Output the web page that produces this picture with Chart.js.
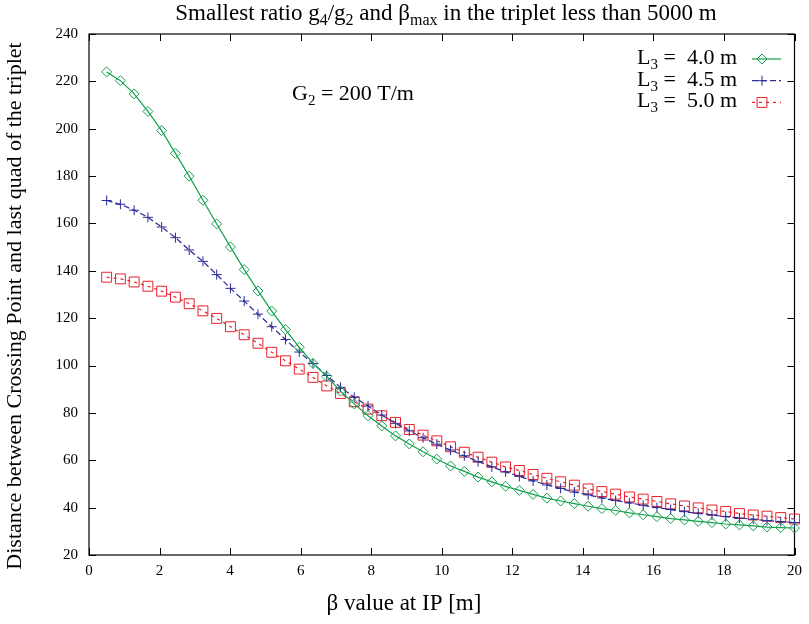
<!DOCTYPE html>
<html>
<head>
<meta charset="utf-8">
<title>Smallest ratio g4/g2 and beta max</title>
<script src="https://cdn.jsdelivr.net/npm/chart.js@4.4.1/dist/chart.umd.min.js"></script>
<style>
  html, body { margin: 0; padding: 0; background: #fff; }
  #wrap { width: 809px; height: 624px; }
</style>
</head>
<body>
<div id="wrap"><canvas id="chart" width="809" height="624"></canvas></div>
<script>
// beta value at IP [m]
var betaIP = [0.5, 0.89, 1.28, 1.67, 2.06, 2.45, 2.84, 3.23, 3.62, 4.01,
  4.4, 4.79, 5.18, 5.57, 5.96, 6.35, 6.74, 7.13, 7.52, 7.91,
  8.3, 8.69, 9.08, 9.47, 9.86, 10.25, 10.64, 11.03, 11.42, 11.81,
  12.2, 12.59, 12.98, 13.37, 13.76, 14.15, 14.54, 14.93, 15.32, 15.71,
  16.1, 16.49, 16.88, 17.27, 17.66, 18.05, 18.44, 18.83, 19.22, 19.61, 20.0];

// distance between crossing point and last quad [m]
var distL40 = [224.0, 220.3, 214.7, 207.3, 199.2, 189.6, 180.0, 169.8, 159.8, 150.1,
  140.5, 131.5, 123.0, 115.2, 107.7, 100.9, 95.4, 89.2, 83.8, 78.8,
  74.5, 70.3, 66.9, 63.6, 60.5, 57.6, 55.3, 52.9, 50.9, 49.0,
  47.3, 45.6, 44.0, 42.8, 41.7, 40.6, 39.6, 38.8, 37.8, 37.0,
  36.2, 35.4, 34.8, 34.2, 33.7, 33.1, 32.7, 32.3, 31.8, 31.6, 31.4];
var distL45 = [169.7, 168.1, 165.6, 162.6, 158.5, 154.0, 148.8, 144.0, 138.4, 132.6,
  127.2, 121.7, 116.4, 111.0, 105.7, 100.9, 95.8, 90.8, 86.6, 82.9,
  79.1, 75.6, 72.4, 69.5, 66.8, 64.3, 61.9, 59.5, 57.2, 55.1,
  53.2, 51.3, 49.6, 48.1, 46.6, 45.4, 44.1, 43.0, 42.0, 41.0,
  40.0, 39.2, 38.3, 37.6, 36.9, 36.2, 35.6, 35.1, 34.5, 34.1, 33.7];
var distL50 = [137.3, 136.6, 135.3, 133.5, 131.4, 128.9, 126.1, 123.1, 119.9, 116.4,
  113.0, 109.4, 105.6, 102.0, 98.5, 95.0, 91.4, 88.2, 84.7, 81.6,
  78.8, 76.0, 73.0, 70.6, 68.2, 65.7, 63.4, 61.3, 59.2, 57.2,
  55.7, 54.0, 52.4, 50.9, 49.5, 47.9, 46.8, 45.7, 44.5, 43.6,
  42.6, 41.6, 40.7, 39.9, 39.0, 38.4, 37.5, 36.9, 36.4, 35.8, 35.2];

var seriesNames = ['4.0', '4.5', '5.0'];
var xTickValues = [0, 2, 4, 6, 8, 10, 12, 14, 16, 18, 20];
var yTickValues = [20, 40, 60, 80, 100, 120, 140, 160, 180, 200, 220, 240];

var serif = "'Liberation Serif', 'Times New Roman', serif";

function toPoints(ys) {
  return ys.map(function (y, i) { return { x: betaIP[i], y: y }; });
}

// text with subscripts: parts = [{t: 'L'}, {t: '3', sub: true}, ...]
function drawRich(ctx, parts, x, y, size, align) {
  var subSize = Math.round(size * 0.7);
  var w = 0;
  parts.forEach(function (p) {
    ctx.font = (p.sub ? subSize : size) + 'px ' + serif;
    w += ctx.measureText(p.t).width;
  });
  var cx = x;
  if (align === 'center') cx = x - w / 2;
  if (align === 'right') cx = x - w;
  ctx.textAlign = 'left';
  ctx.textBaseline = 'alphabetic';
  parts.forEach(function (p) {
    ctx.font = (p.sub ? subSize : size) + 'px ' + serif;
    ctx.fillText(p.t, cx, p.sub ? y + size * 0.22 : y);
    cx += ctx.measureText(p.t).width;
  });
}

var framePlugin = {
  id: 'gnuFrame',
  beforeDatasetsDraw: function (chart) {
    var ctx = chart.ctx;
    var a = chart.chartArea;
    var xs = chart.scales.x;
    var ys = chart.scales.y;
    var tick = 7;
    ctx.save();
    ctx.strokeStyle = '#000';
    ctx.lineWidth = 1.2;
    ctx.strokeRect(a.left, a.top, a.right - a.left, a.bottom - a.top);
    ctx.lineWidth = 1;
    ctx.beginPath();
    xs.ticks.forEach(function (t) {
      var px = Math.round(xs.getPixelForValue(t.value)) + 0.5;
      ctx.moveTo(px, a.bottom); ctx.lineTo(px, a.bottom - tick);
      ctx.moveTo(px, a.top); ctx.lineTo(px, a.top + tick);
    });
    ys.ticks.forEach(function (t) {
      var py = Math.round(ys.getPixelForValue(t.value)) + 0.5;
      ctx.moveTo(a.left, py); ctx.lineTo(a.left + tick, py);
      ctx.moveTo(a.right, py); ctx.lineTo(a.right - tick, py);
    });
    ctx.stroke();
    ctx.restore();
  },
  afterDraw: function (chart) {
    var ctx = chart.ctx;
    ctx.save();
    ctx.fillStyle = '#000';

    drawRich(ctx, [
      { t: 'Smallest ratio g' }, { t: '4', sub: true }, { t: '/g' }, { t: '2', sub: true },
      { t: ' and \u03B2' }, { t: 'max', sub: true }, { t: ' in the triplet less than 5000 m' }
    ], 446, 20, 23, 'center');

    drawRich(ctx, [{ t: 'G' }, { t: '2', sub: true }, { t: ' = 200 T/m' }], 292, 100, 22, 'left');

    ctx.font = '23px ' + serif;
    ctx.textAlign = 'center';
    ctx.textBaseline = 'alphabetic';
    ctx.fillText('\u03B2 value at IP [m]', 404, 610);

    ctx.save();
    ctx.translate(21, 306);
    ctx.rotate(-Math.PI / 2);
    ctx.font = '22px ' + serif;
    ctx.fillText('Distance between Crossing Point and last quad of the triplet', 0, 0);
    ctx.restore();

    // legend: text on the left, line sample with marker on the right
    chart.data.datasets.forEach(function (ds, i) {
      var rowY = 59 + i * 21.7;
      ctx.fillStyle = '#000';
      drawRich(ctx, [{ t: 'L' }, { t: '3', sub: true }, { t: ' =  ' + seriesNames[i] + ' m' }], 737, rowY + 5, 22, 'right');
      ctx.strokeStyle = ds.borderColor;
      ctx.lineWidth = ds.borderWidth;
      ctx.setLineDash(ds.borderDash || []);
      ctx.beginPath();
      ctx.moveTo(752, rowY);
      ctx.lineTo(781, rowY);
      ctx.stroke();
      ctx.setLineDash([]);
      ctx.lineWidth = 1;
      ctx.fillStyle = 'rgba(0,0,0,0)';
      Chart.helpers.drawPoint(ctx, {
        pointStyle: ds.pointStyle, radius: ds.pointRadius, rotation: 0, borderWidth: 1
      }, 762, rowY);
    });
    ctx.restore();
  }
};

var datasets = [
  { data: toPoints(distL40), borderColor: '#12a04c', pointStyle: 'rectRot', pointRadius: 5 },
  { data: toPoints(distL45), borderColor: '#2b2b96', pointStyle: 'cross', pointRadius: 5, borderDash: [6, 3] },
  { data: toPoints(distL50), borderColor: '#e8202a', pointStyle: 'rect', pointRadius: 7, borderDash: [3, 4] }
].map(function (d) {
  d.showLine = true;
  d.borderWidth = 1.2;
  d.pointBorderColor = d.borderColor;
  d.pointBackgroundColor = 'rgba(0,0,0,0)';
  d.pointBorderWidth = 1;
  d.pointHoverRadius = d.pointRadius;
  d.tension = 0;
  d.clip = false;
  return d;
});

new Chart(document.getElementById('chart').getContext('2d'), {
  type: 'scatter',
  data: { datasets: datasets },
  plugins: [framePlugin],
  options: {
    responsive: false,
    animation: false,
    layout: { padding: { top: 34, right: 12, left: 0, bottom: 0 } },
    plugins: {
      legend: { display: false },
      title: { display: false },
      tooltip: { enabled: false }
    },
    scales: {
      x: {
        type: 'linear',
        min: 0,
        max: 20,
        afterBuildTicks: function (s) {
          s.ticks = xTickValues.map(function (v) { return { value: v }; });
        },
        afterFit: function (s) { s.height = 69; },
        grid: { display: false, drawTicks: false },
        border: { display: false },
        ticks: {
          color: '#000',
          padding: 7,
          maxRotation: 0,
          autoSkip: false,
          font: { family: serif, size: 15 }
        }
      },
      y: {
        type: 'linear',
        min: 20,
        max: 240,
        afterBuildTicks: function (s) {
          s.ticks = yTickValues.map(function (v) { return { value: v }; });
        },
        afterFit: function (s) { s.width = 89; },
        grid: { display: false, drawTicks: false },
        border: { display: false },
        ticks: {
          color: '#000',
          padding: 11,
          autoSkip: false,
          font: { family: serif, size: 15 }
        }
      }
    }
  }
});
</script>
</body>
</html>
